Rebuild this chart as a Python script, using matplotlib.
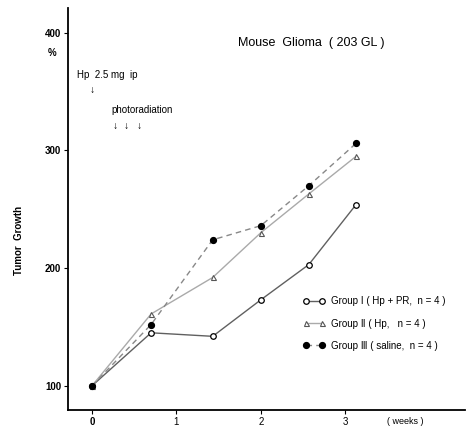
import matplotlib
matplotlib.use("Agg")
import matplotlib.pyplot as plt

plt.rcParams['font.family'] = ['Liberation Sans', 'DejaVu Sans']

weeks = [0, 0.7, 1.43, 2.0, 2.57, 3.13]
group1 = [100, 145, 142, 173, 203, 254]   # Hp + PR
group2 = [100, 161, 192, 230, 263, 295]   # Hp
group3 = [100, 152, 224, 236, 270, 306]   # saline

labels = ["Group \u2160 ( Hp + PR,  n = 4 )",
          "Group \u2161 ( Hp,   n = 4 )",
          "Group \u2162 ( saline,  n = 4 )"]

fig = plt.figure(figsize=(4.67, 4.3), dpi=100)
ax = fig.add_axes([0.1456, 0.0465, 0.85, 0.935])

# scan is faded, so lines are drawn in greys
ax.plot(weeks, group1, color="#606060", lw=1.0, marker="o", ms=4,
        mfc="white", mec="black", mew=0.9, label=labels[0])
ax.plot(weeks, group2, color="#aaaaaa", lw=1.0, marker="^", ms=3.6,
        mfc="white", mec="#555555", mew=0.8, label=labels[1])
ax.plot(weeks, group3, color="#888888", lw=1.0, ls=(0, (4, 3)), marker="o",
        ms=4.2, mfc="black", mec="black", label=labels[2])

ax.set_xlim(-0.285, 4.42)
ax.set_ylim(79.4, 421)

ax.spines["top"].set_visible(False)
ax.spines["right"].set_visible(False)
ax.spines["left"].set_linewidth(1.3)
ax.spines["bottom"].set_linewidth(1.3)

ax.set_xticks([0, 1, 2, 3])
ax.set_xticklabels(["0", "1", "2", "3"], fontsize=7)
ax.get_xticklabels()[0].set_fontweight("bold")
ax.set_yticks([100, 200, 300, 400])
ax.set_yticklabels(["100", "200", "300", "400"], fontsize=7, fontweight="bold")
ax.tick_params(axis="both", length=3, width=0.8, pad=2)

ax.text(3.5, -0.028, "( weeks )", transform=ax.get_xaxis_transform(),
        fontsize=6.5, va="center", ha="left")
ax.text(-0.52, 383, "%", fontsize=7, fontweight="bold", ha="left", va="center")
fig.text(0.04, 0.442, "Tumor  Growth", rotation=90, fontsize=7,
         fontweight="bold", ha="center", va="center")

ax.text(2.6, 391, "Mouse  Glioma  ( 203 GL )", fontsize=9,
        ha="center", va="center")
ax.text(-0.18, 364, "Hp  2.5 mg  ip", fontsize=7, ha="left", va="center")
ax.text(0.0, 351, "\u2193", fontsize=7.5, ha="center", va="center")
ax.text(0.225, 334, "photoradiation", fontsize=7, ha="left", va="center")
for x in [0.27, 0.41, 0.56]:
    ax.text(x, 321, "\u2193", fontsize=7.5, ha="center", va="center")

ax.legend(loc="upper left", bbox_to_anchor=(0.638, 0.322),
          bbox_transform=fig.transFigure, frameon=False, fontsize=7,
          handlelength=2.3, handletextpad=0.6, labelspacing=1.25,
          borderpad=0, numpoints=2)

fig.savefig("out.png", dpi=100)
